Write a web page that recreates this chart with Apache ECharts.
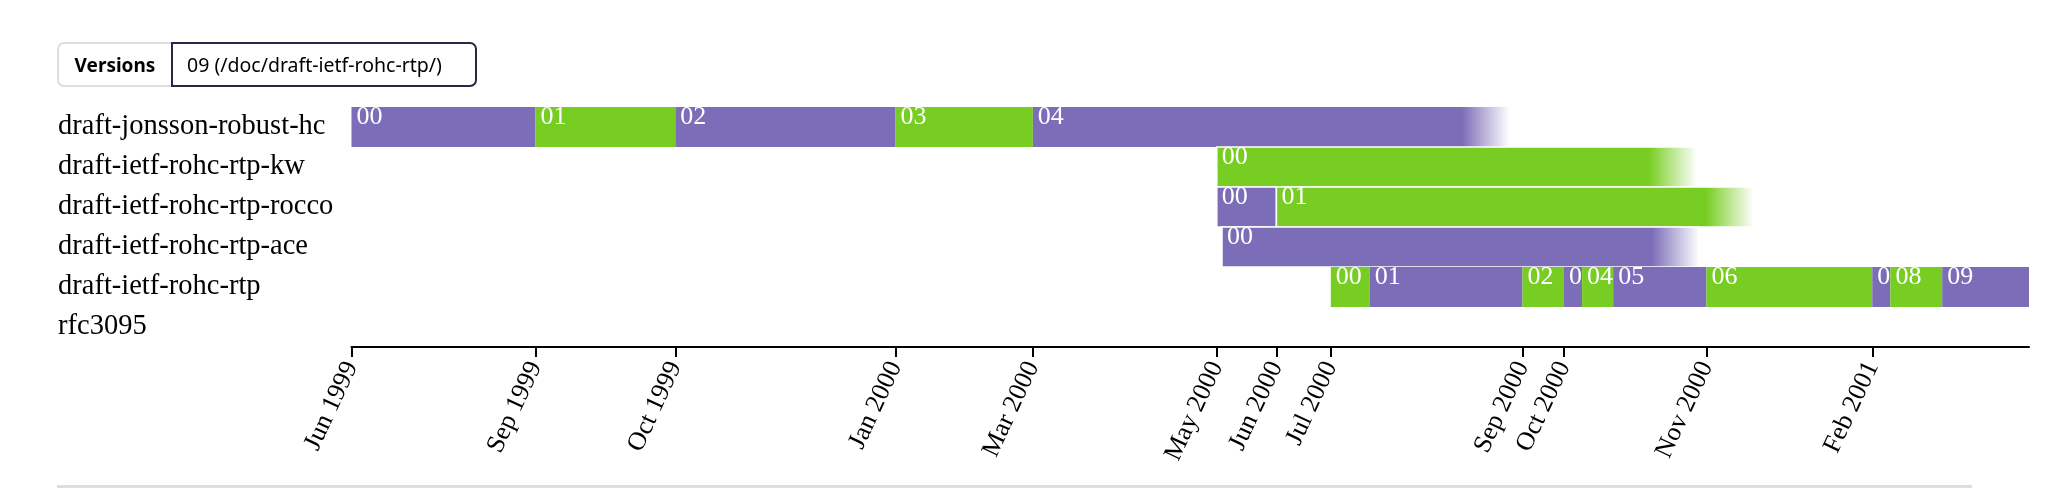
<!DOCTYPE html>
<html>
<head>
<meta charset="utf-8">
<script src="https://cdn.jsdelivr.net/npm/echarts@6/dist/echarts.min.js"></script>
<style>
  html, body { margin: 0; padding: 0; background: #fff; }
  #chart { position: absolute; left: 0; top: 0; width: 2063px; height: 488px; }
  #btns { position: absolute; left: 57px; top: 42px; height: 45px; display: flex; font-family: "Noto Sans", sans-serif; z-index: 2; }
  #btns div { box-sizing: border-box; height: 45px; display: flex; align-items: center; color: #000; }
  #b1 { width: 114px; border: 2px solid #dedede; border-right: none; border-radius: 7px 0 0 7px; justify-content: center; font-weight: bold; font-size: 19px; }
  #b2 { width: 306px; border: 2px solid #2b2546; border-radius: 0 7px 7px 0; padding-left: 14px; font-size: 19.5px; }
  #rule { position: absolute; left: 57px; top: 485px; width: 1915px; height: 3px; background: #dedede; }
</style>
</head>
<body>
<div id="chart"></div>
<div id="btns"><div id="b1">Versions</div><div id="b2">09 (/doc/draft-ietf-rohc-rtp/)</div></div>
<div id="rule"></div>
<script>
// ---- data ----
const docNames = ['draft-jonsson-robust-hc', 'draft-ietf-rohc-rtp-kw', 'draft-ietf-rohc-rtp-rocco',
                  'draft-ietf-rohc-rtp-ace', 'draft-ietf-rohc-rtp', 'rfc3095'];
const jonssonRevs = ['00', '01', '02', '03', '04'];
const jonssonDates = ['1999-06-25', '1999-09-04', '1999-10-28', '2000-01-21', '2000-03-14'];
const kwRevs = ['00'];
const kwDates = ['2000-05-24'];
const roccoRevs = ['00', '01'];
const roccoDates = ['2000-05-24', '2000-06-16'];
const aceRevs = ['00'];
const aceDates = ['2000-05-26'];
const rtpRevs = ['00', '01', '02', '03', '04', '05', '06', '07', '08', '09'];
const rtpDates = ['2000-07-07', '2000-07-22', '2000-09-19', '2000-10-05', '2000-10-12',
                  '2000-10-24', '2000-11-29', '2001-02-01', '2001-02-08', '2001-02-28'];
const rfcRevs = [];
const rfcDates = [];
// end of the last revision of each document (expiry date for expired drafts)
const docEndDates = ['2000-09-14', '2000-11-25', '2000-12-17', '2000-11-26', '2001-04-02T12:00', null];
const docExpired = [true, true, true, true, false, false];
const axisStart = '1999-06-25';
const axisEnd = '2001-04-02T12:00';
const tickDates = ['1999-06-25', '1999-09-04', '1999-10-28', '2000-01-21', '2000-03-14', '2000-05-24',
                   '2000-06-16', '2000-07-07', '2000-09-19', '2000-10-05', '2000-11-29', '2001-02-01'];
const monthNames = ['Jan', 'Feb', 'Mar', 'Apr', 'May', 'Jun', 'Jul', 'Aug', 'Sep', 'Oct', 'Nov', 'Dec'];

// ---- build ----
function ts(s) {
  const m = s.match(/^(\d+)-(\d+)-(\d+)(?:T(\d+):(\d+))?$/);
  return new Date(+m[1], +m[2] - 1, +m[3], m[4] ? +m[4] : 0, m[5] ? +m[5] : 0).getTime();
}
const revLists = [jonssonRevs, kwRevs, roccoRevs, aceRevs, rtpRevs, rfcRevs];
const dateLists = [jonssonDates, kwDates, roccoDates, aceDates, rtpDates, rfcDates];
const bars = [];
let g = 0;
revLists.forEach((revs, d) => {
  const dates = dateLists[d];
  revs.forEach((rev, i) => {
    const last = i === revs.length - 1;
    bars.push({
      row: d, rev: rev,
      start: ts(dates[i]),
      end: last ? ts(docEndDates[d]) : ts(dates[i + 1]),
      idx: g++,
      fade: last && docExpired[d]
    });
  });
});

const PURPLE = '#7b6db7', PURPLE0 = 'rgba(123,109,183,0)';
const GREEN = '#78cd22', GREEN0 = 'rgba(120,205,34,0)';
const SERIF = '"Liberation Serif", "DejaVu Serif", serif';
const ticks = tickDates.map(ts);

const chart = echarts.init(document.getElementById('chart'), null, { renderer: 'canvas' });
chart.setOption({
  animation: false,
  grid: { left: 351.5, right: 34, top: 107, height: 240, containLabel: false },
  xAxis: {
    type: 'value',
    min: ts(axisStart), max: ts(axisEnd),
    position: 'bottom',
    axisLine: { show: true, lineStyle: { color: '#000', width: 2 } },
    axisTick: { show: true, length: 10, lineStyle: { color: '#000', width: 2 }, customValues: ticks },
    axisLabel: {
      customValues: ticks,
      rotate: 65, margin: 16,
      fontFamily: SERIF, fontSize: 26, color: '#000',
      formatter: v => { const d = new Date(v); return monthNames[d.getMonth()] + ' ' + d.getFullYear(); }
    },
    splitLine: { show: false }, minorTick: { show: false }
  },
  yAxis: {
    type: 'category', data: docNames, inverse: true,
    axisLine: { show: false }, axisTick: { show: false }, splitLine: { show: false },
    axisLabel: { align: 'left', margin: 293.5, fontFamily: SERIF, fontSize: 28.5, color: '#000' }
  },
  series: [{
    type: 'custom',
    clip: false,
    data: bars.map(b => [b.row, b.start, b.end]),
    encode: { x: [1, 2], y: 0 },
    renderItem: (params, api) => {
      const b = bars[params.dataIndex];
      const p0 = api.coord([api.value(1), api.value(0)]);
      const p1 = api.coord([api.value(2), api.value(0)]);
      const h = api.size([0, 1])[1];
      const x = p0[0], y = p0[1] - h / 2, w = p1[0] - p0[0];
      const even = b.idx % 2 === 0;
      const c = even ? PURPLE : GREEN, c0 = even ? PURPLE0 : GREEN0;
      const fill = b.fade
        ? new echarts.graphic.LinearGradient(0, 0, 1, 0, [
            { offset: 0, color: c }, { offset: 0.9, color: c }, { offset: 1, color: c0 }])
        : c;
      const outlined = b.row >= 1 && b.row <= 3;
      return {
        type: 'group',
        children: [
          { type: 'rect', shape: { x: x, y: y, width: w, height: h },
            style: { fill: fill, stroke: outlined ? '#fff' : null, lineWidth: outlined ? 1.5 : 0 } },
          { type: 'text',
            style: { text: b.rev, x: x + 5, y: y - 3, fill: '#fff',
                     font: '26px ' + SERIF, verticalAlign: 'top', align: 'left',
                     width: Math.max(w - 4, 1), overflow: 'truncate', ellipsis: '' } }
        ]
      };
    }
  }]
});
</script>
</body>
</html>
